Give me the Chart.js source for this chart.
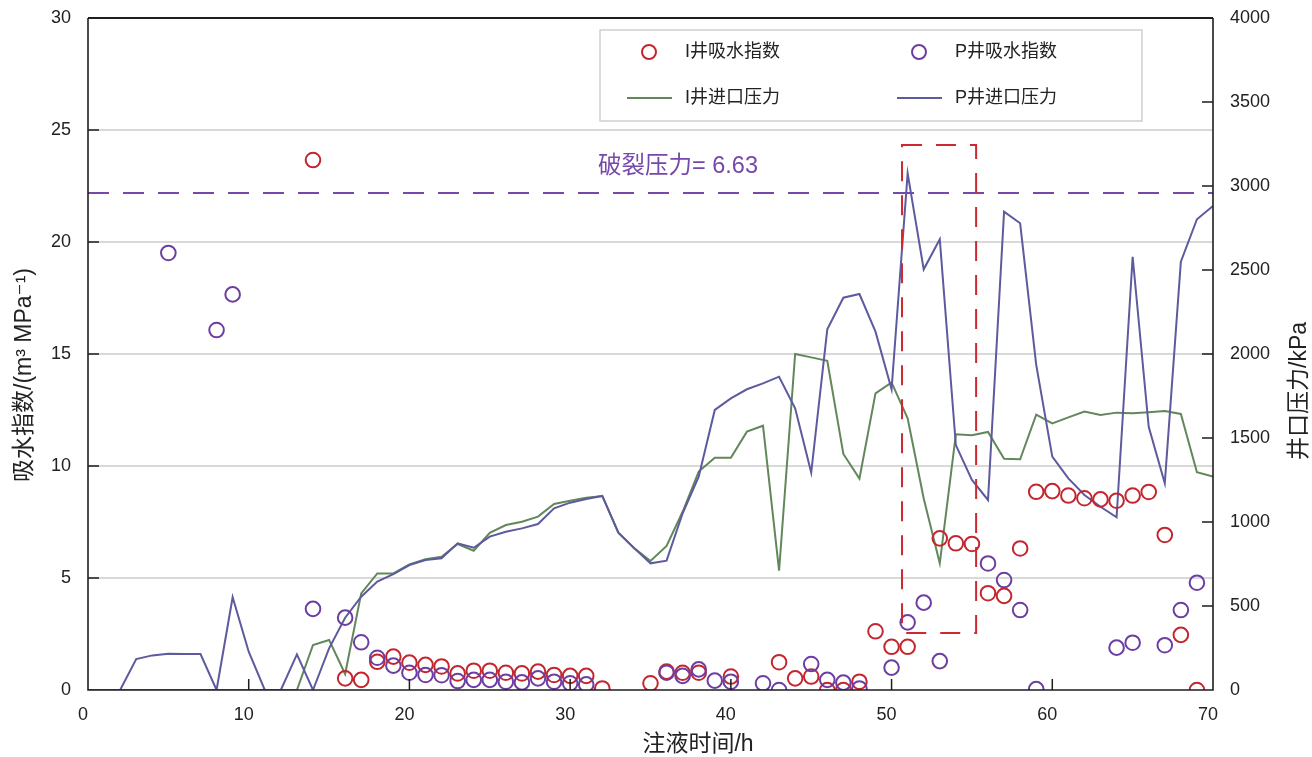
<!DOCTYPE html>
<html>
<head>
<meta charset="utf-8">
<script src="https://cdn.jsdelivr.net/npm/chart.js@4.4.1/dist/chart.umd.min.js"></script>
<style>
  html, body { margin: 0; padding: 0; background: #ffffff; }
  #wrap { width: 1312px; height: 757px; }
</style>
</head>
<body>
<div id="wrap"><canvas id="c" width="1312" height="757"></canvas></div>
<script>
// Injection hours for the wellhead pressure records
const hours = [0,1,2,3,4,5,6,7,8,9,10,11,12,13,14,15,16,17,18,19,20,21,22,23,24,25,26,27,28,29,30,
  31,32,33,34,35,36,37,38,39,40,41,42,43,44,45,46,47,48,49,50,51,52,53,54,55,56,57,58,59,60,
  61,62,63,64,65,66,67,68,69,70];

// I well inlet pressure, kPa
const iPressure = [0,0,0,0,0,0,0,0,0,0,0,0,0,0,268,298,95,575,694,694,748,
  778,793,869,829,936,982,1002,1032,1107,1127,1145,1155,936,843,768,857,1061,1300,1383,1383,
  1538,1573,710,2000,1980,1960,1405,1258,1766,1831,1617,1140,754,1522,1516,1536,1377,1373,1639,1587,
  1623,1657,1637,1651,1647,1653,1661,1643,1296,1270];

// P well inlet pressure, kPa
const pPressure = [0,0,0,184,206,216,214,214,0,552,228,0,0,212,0,248,430,555,645,690,744,
  774,784,873,847,913,942,962,988,1081,1115,1137,1155,936,843,754,770,1052,1270,1667,1736,
  1790,1825,1865,1677,1294,2147,2335,2357,2133,1790,3075,2504,2683,1458,1250,1131,2847,2778,1935,1389,
  1260,1161,1091,1028,2579,1567,1230,2549,2802,2881];

// I well water-absorption index samples
const iHours = [14,16,17,18,19,20,21,22,23,24,25,26,27,28,29,30,31,32,35,36,37,38,40,43,44,45,46,47,48,
  49,50,51,53,54,55,56,57,58,59,60,61,62,63,64,65,66,67,68,69];
const iIndex = [23.66,0.52,0.45,1.26,1.49,1.22,1.12,1.05,0.74,0.86,0.86,0.77,0.74,0.82,0.67,0.63,0.63,0.07,
  0.30,0.82,0.77,0.77,0.60,1.24,0.52,0.60,0,0,0.37,
  2.62,1.93,1.93,6.77,6.55,6.52,4.32,4.20,6.32,8.85,8.88,8.68,8.56,8.51,8.45,8.68,8.84,6.92,2.46,0];

// P well water-absorption index samples
const pHours = [5,8,9,14,16,17,18,19,20,21,22,23,24,25,26,27,28,29,30,31,36,37,38,39,40,42,43,45,46,47,48,
  50,51,52,53,56,57,58,59,64,65,67,68,69];
const pIndex = [19.51,16.07,17.66,3.62,3.23,2.13,1.44,1.09,0.77,0.67,0.66,0.40,0.45,0.45,0.37,0.34,0.52,0.37,0.30,0.25,
  0.77,0.63,0.92,0.42,0.37,0.30,0,1.16,0.45,0.33,0.07,
  1.00,3.02,3.90,1.29,5.65,4.91,3.57,0.04,1.89,2.11,2.00,3.57,4.79];

// Axis ticks
const xTicks = [0,10,20,30,40,50,60,70];
const indexTicks = [0,5,10,15,20,25,30];
const pressureTicks = [0,500,1000,1500,2000,2500,3000,3500,4000];

// Fracture pressure reference line (on the pressure axis) and its caption
const fractureKPa = 2958;
const fractureLabel = '破裂压力= 6.63';

// Highlighted window: hours and pressure bounds
const windowHours = [50.65, 55.26];
const windowKPa = [339, 3244];

const labels = {
  iIndex: 'I井吸水指数',
  pIndex: 'P井吸水指数',
  iPressure: 'I井进口压力',
  pPressure: 'P井进口压力',
  xTitle: '注液时间/h',
  yTitle: '吸水指数/(m³ MPa⁻¹)',
  y2Title: '井口压力/kPa'
};

const colors = {
  iIndex: '#c3262e',
  pIndex: '#6c3ea2',
  iPressure: '#62875a',
  pPressure: '#5d5a9e',
  fracture: '#7548aa',
  window: '#cc2a30',
  grid: '#d9d9d9',
  text: '#222222'
};

const FONT = "'Liberation Sans', 'Noto Sans CJK SC', 'DejaVu Sans', sans-serif";
Chart.defaults.font.family = FONT;
Chart.defaults.color = colors.text;

const toPoints = (xs, ys) => xs.map((x, i) => ({ x: x, y: ys[i] }));

// keep the plot box fixed: axes take a set size and no extra label padding
const fixSize = (prop, size) => s => {
  s[prop] = size;
  s.paddingTop = 0; s.paddingBottom = 0; s.paddingLeft = 0; s.paddingRight = 0;
};

// Frame, inward tick marks, reference line, window box, legend and axis titles
const decorations = {
  id: 'decorations',
  afterDatasetsDraw(chart) {
    const { ctx, chartArea: a, scales } = chart;
    const x = scales.x, y = scales.y, y2 = scales.y2;
    ctx.save();

    // fracture pressure dashed line
    const fy = y2.getPixelForValue(fractureKPa);
    ctx.strokeStyle = colors.fracture;
    ctx.lineWidth = 2;
    ctx.setLineDash([21, 14]);
    ctx.beginPath();
    ctx.moveTo(a.left, fy);
    ctx.lineTo(a.right, fy);
    ctx.stroke();

    ctx.setLineDash([]);
    ctx.fillStyle = colors.fracture;
    ctx.font = '23.5px ' + FONT;
    ctx.textAlign = 'left';
    ctx.textBaseline = 'middle';
    ctx.fillText(fractureLabel, 598, fy - 27);

    // highlighted window
    const bx0 = x.getPixelForValue(windowHours[0]);
    const bx1 = x.getPixelForValue(windowHours[1]);
    const by0 = y2.getPixelForValue(windowKPa[1]);
    const by1 = y2.getPixelForValue(windowKPa[0]);
    ctx.strokeStyle = colors.window;
    ctx.lineWidth = 2;
    ctx.setLineDash([20, 14]);
    ctx.strokeRect(bx0, by0, bx1 - bx0, by1 - by0);
    ctx.setLineDash([]);

    // frame
    ctx.strokeStyle = '#1e1e1e';
    ctx.lineWidth = 2;
    ctx.beginPath();
    ctx.moveTo(a.left, a.top);
    ctx.lineTo(a.right, a.top);
    ctx.stroke();
    ctx.lineWidth = 1.6;
    ctx.beginPath();
    ctx.moveTo(a.left, a.top);
    ctx.lineTo(a.left, a.bottom);
    ctx.lineTo(a.right, a.bottom);
    ctx.lineTo(a.right, a.top);
    ctx.stroke();

    // inward tick marks
    ctx.lineWidth = 1.5;
    ctx.beginPath();
    indexTicks.forEach(v => {
      if (v === 0 || v === 30) return;
      const py = y.getPixelForValue(v);
      ctx.moveTo(a.left, py); ctx.lineTo(a.left + 11, py);
    });
    pressureTicks.forEach(v => {
      if (v === 0 || v === 4000) return;
      const py = y2.getPixelForValue(v);
      ctx.moveTo(a.right, py); ctx.lineTo(a.right - 11, py);
    });
    xTicks.forEach(v => {
      if (v === 0 || v === 70) return;
      const px = x.getPixelForValue(v);
      ctx.moveTo(px, a.bottom); ctx.lineTo(px, a.bottom - 11);
    });
    ctx.stroke();
    ctx.restore();
  },
  afterDraw(chart) {
    const { ctx, data } = chart;
    ctx.save();

    // legend
    ctx.fillStyle = '#ffffff';
    ctx.fillRect(600, 30, 542, 91);
    ctx.strokeStyle = '#cfcfcf';
    ctx.lineWidth = 1.5;
    ctx.strokeRect(600, 30, 542, 91);
    const cells = [
      { ds: data.datasets[0], cx: 649, cy: 52, tx: 685 },
      { ds: data.datasets[1], cx: 919, cy: 52, tx: 955 },
      { ds: data.datasets[2], cx: 649, cy: 98, tx: 685 },
      { ds: data.datasets[3], cx: 919, cy: 98, tx: 955 }
    ];
    cells.forEach(c => {
      ctx.strokeStyle = c.ds.borderColor;
      ctx.lineWidth = c.ds.showLine === false ? 2 : 2;
      ctx.beginPath();
      if (c.ds.showLine === false) {
        ctx.arc(c.cx, c.cy, 7, 0, Math.PI * 2);
      } else {
        ctx.moveTo(c.cx - 22, c.cy);
        ctx.lineTo(c.cx + 23, c.cy);
      }
      ctx.stroke();
      ctx.fillStyle = colors.text;
      ctx.font = '18px ' + FONT;
      ctx.textAlign = 'left';
      ctx.textBaseline = 'middle';
      ctx.fillText(c.ds.label, c.tx, c.cy);
    });

    // axis titles
    ctx.fillStyle = colors.text;
    ctx.font = '23px ' + FONT;
    ctx.textAlign = 'center';
    ctx.textBaseline = 'middle';
    ctx.fillText(labels.xTitle, 698, 745);

    ctx.save();
    ctx.translate(25, 375);
    ctx.rotate(-Math.PI / 2);
    ctx.fillText(labels.yTitle, 0, 0);
    ctx.restore();

    ctx.save();
    ctx.translate(1300, 391);
    ctx.rotate(-Math.PI / 2);
    ctx.fillText(labels.y2Title, 0, 0);
    ctx.restore();

    ctx.restore();
  }
};

new Chart(document.getElementById('c').getContext('2d'), {
  type: 'line',
  data: {
    datasets: [
      {
        label: labels.iIndex,
        data: toPoints(iHours, iIndex),
        yAxisID: 'y',
        showLine: false,
        pointStyle: 'circle',
        pointRadius: 7.3,
        pointBorderWidth: 2,
        borderColor: colors.iIndex,
        pointBorderColor: colors.iIndex,
        pointBackgroundColor: 'rgba(0,0,0,0)',
        order: 1
      },
      {
        label: labels.pIndex,
        data: toPoints(pHours, pIndex),
        yAxisID: 'y',
        showLine: false,
        pointStyle: 'circle',
        pointRadius: 7.3,
        pointBorderWidth: 2,
        borderColor: colors.pIndex,
        pointBorderColor: colors.pIndex,
        pointBackgroundColor: 'rgba(0,0,0,0)',
        order: 0
      },
      {
        label: labels.iPressure,
        data: toPoints(hours, iPressure),
        yAxisID: 'y2',
        borderColor: colors.iPressure,
        borderWidth: 2,
        pointRadius: 0,
        tension: 0,
        fill: false,
        order: 3
      },
      {
        label: labels.pPressure,
        data: toPoints(hours, pPressure),
        yAxisID: 'y2',
        borderColor: colors.pPressure,
        borderWidth: 2,
        pointRadius: 0,
        tension: 0,
        fill: false,
        order: 2
      }
    ]
  },
  options: {
    responsive: false,
    animation: false,
    devicePixelRatio: 1,
    layout: { padding: { top: 18, left: 0, right: 0, bottom: 0 } },
    scales: {
      x: {
        type: 'linear',
        min: xTicks[0],
        max: xTicks[xTicks.length - 1],
        afterBuildTicks: s => { s.ticks = xTicks.map(v => ({ value: v })); },
        ticks: { font: { size: 18 }, color: colors.text, padding: 14, labelOffset: -5, maxRotation: 0,
          callback: v => String(v) },
        grid: { display: false, drawTicks: false },
        border: { display: false },
        afterFit: fixSize('height', 67)
      },
      y: {
        position: 'left',
        min: indexTicks[0],
        max: indexTicks[indexTicks.length - 1],
        afterBuildTicks: s => { s.ticks = indexTicks.map(v => ({ value: v })); },
        ticks: { font: { size: 18 }, color: colors.text, padding: 17, callback: v => String(v) },
        grid: {
          drawTicks: false,
          lineWidth: 2,
          color: c => (c.tick && (c.tick.value === 0 || c.tick.value === 30)) ? 'rgba(0,0,0,0)' : colors.grid
        },
        border: { display: false },
        afterFit: fixSize('width', 88)
      },
      y2: {
        position: 'right',
        min: pressureTicks[0],
        max: pressureTicks[pressureTicks.length - 1],
        afterBuildTicks: s => { s.ticks = pressureTicks.map(v => ({ value: v })); },
        ticks: { font: { size: 18 }, color: colors.text, padding: 17, callback: v => String(v) },
        grid: { display: false, drawTicks: false },
        border: { display: false },
        afterFit: fixSize('width', 99)
      }
    },
    plugins: {
      legend: { display: false },
      tooltip: { enabled: false },
      title: { display: false }
    }
  },
  plugins: [decorations]
});
</script>
</body>
</html>
